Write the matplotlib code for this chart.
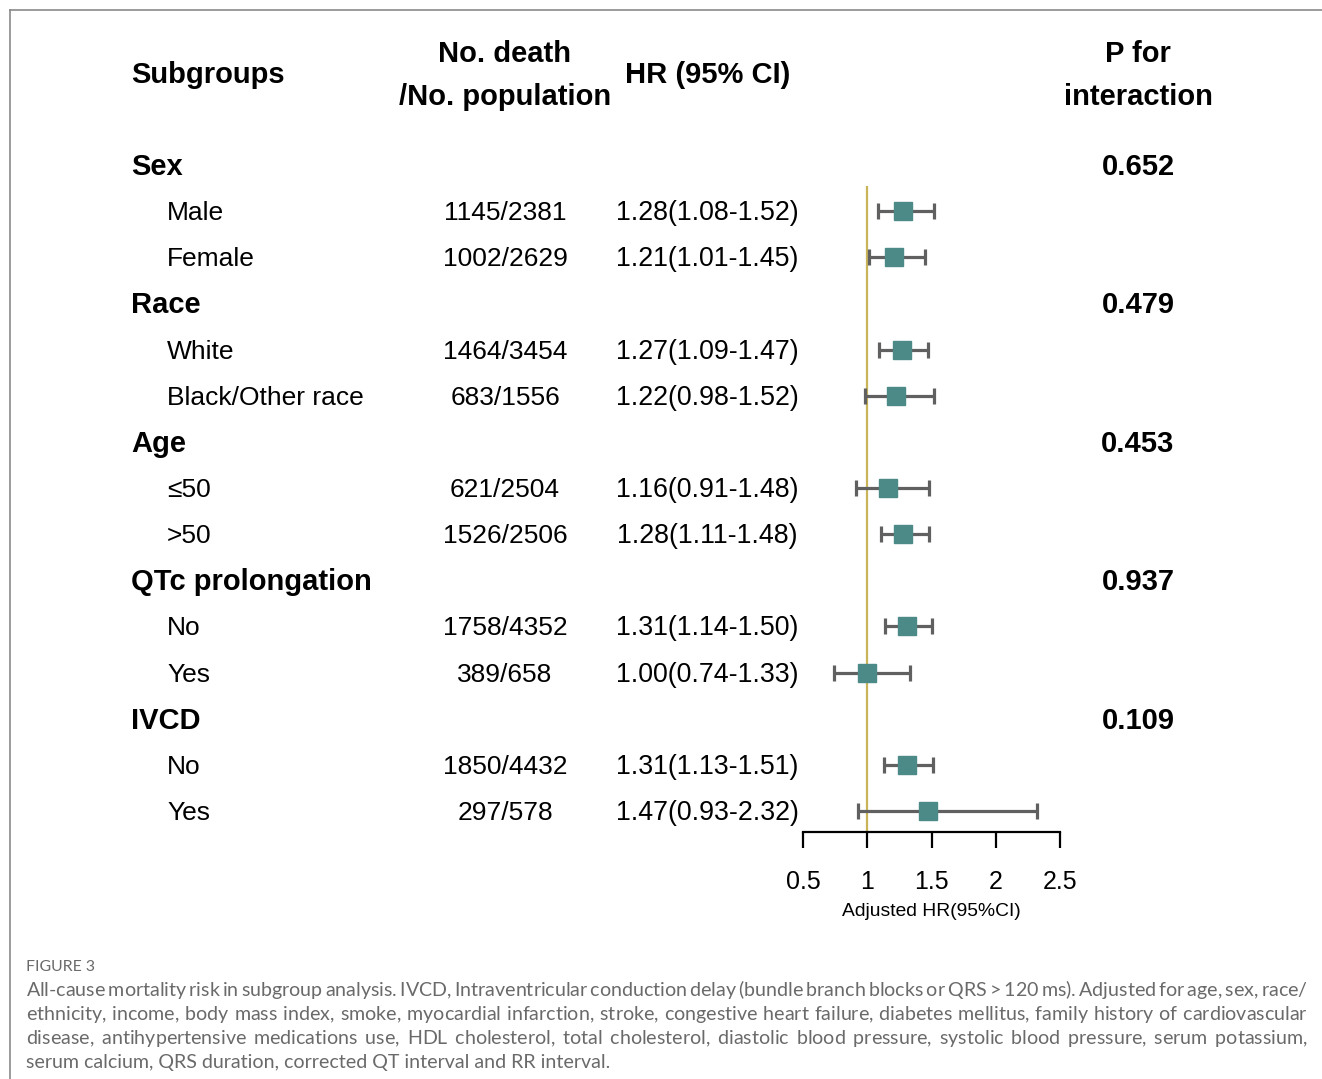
import matplotlib
matplotlib.use("Agg")
import matplotlib.pyplot as plt
import matplotlib.transforms as mtransforms
from matplotlib.lines import Line2D

plt.rcParams['font.family'] = ['Liberation Sans', 'DejaVu Sans']

# subgroup table
groups = ['Sex', 'Race', 'Age', 'QTc prolongation', 'IVCD']
p_interaction = ['0.652', '0.479', '0.453', '0.937', '0.109']
levels = [['Male', 'Female'], ['White', 'Black/Other race'], ['≤50', '>50'],
          ['No', 'Yes'], ['No', 'Yes']]
deaths = [1145, 1002, 1464, 683, 621, 1526, 1758, 389, 1850, 297]
population = [2381, 2629, 3454, 1556, 2504, 2506, 4352, 658, 4432, 578]
hr = [1.28, 1.21, 1.27, 1.22, 1.16, 1.28, 1.31, 1.00, 1.31, 1.47]
hr_low = [1.08, 1.01, 1.09, 0.98, 0.91, 1.11, 1.14, 0.74, 1.13, 0.93]
hr_high = [1.52, 1.45, 1.47, 1.52, 1.48, 1.48, 1.50, 1.33, 1.51, 2.32]
xticks = [0.5, 1, 1.5, 2, 2.5]

caption_lines = [
    'All-cause mortality risk in subgroup analysis. IVCD, Intraventricular conduction delay (bundle branch blocks or QRS$\\,$>$\\,$120 ms). Adjusted for age, sex, race/',
    'ethnicity, income, body mass index, smoke, myocardial infarction, stroke, congestive heart failure, diabetes mellitus, family history of cardiovascular',
    'disease, antihypertensive medications use, HDL cholesterol, total cholesterol, diastolic blood pressure, systolic blood pressure, serum potassium,',
    'serum calcium, QRS duration, corrected QT interval and RR interval.',
]

W, H = 1322, 1079
fig = plt.figure(figsize=(W / 100, H / 100), dpi=100)


def fx(px):
    return px / W


def fy(py):
    return 1 - py / H


# row layout: group header followed by its levels
group_rows, level_rows = [], []
r = 0
for lv in levels:
    group_rows.append(r)
    r += 1
    for _ in lv:
        level_rows.append(r)
        r += 1

row0_px, row_step = 165, 46.14
ax_top_px, ax_bot_px = 150, 832
y_top = (ax_top_px - row0_px) / row_step
y_bot = (ax_bot_px - row0_px) / row_step

ax = fig.add_axes([fx(803), fy(ax_bot_px), fx(1060 - 803), (ax_bot_px - ax_top_px) / H])
ax.set_xlim(0.5, 2.5)
ax.set_ylim(y_bot, y_top)
for s in ['top', 'left', 'right']:
    ax.spines[s].set_visible(False)
ax.spines['bottom'].set_linewidth(1.6)
ax.set_yticks([])
ax.set_xticks(xticks)
ax.set_xticklabels([f'{t:g}' for t in xticks], fontsize=18)
ax.tick_params(axis='x', length=11.5, width=1.6, pad=16)
ax.set_xlabel('Adjusted HR(95%CI)', fontsize=13.9, labelpad=6.5)
ax.patch.set_visible(False)

# null line
ax.vlines(1, 0.45, y_bot, color='#c9b45a', lw=1.6, zorder=1)

# confidence intervals and point estimates
err = [[h - l for h, l in zip(hr, hr_low)], [u - h for h, u in zip(hr, hr_high)]]
ax.errorbar(hr, level_rows, xerr=err, fmt='none', ecolor='#606060',
            elinewidth=2.3, capsize=5.8, capthick=2.3, zorder=2, clip_on=False)
ax.plot(hr, level_rows, 's', ms=12.5, color='#4b8a86', mec='#4b8a86', zorder=3,
        clip_on=False)

# text columns share the row positions of the forest axes (nudged 2px down)
nudge = mtransforms.ScaledTranslation(0, -2 / 100, fig.dpi_scale_trans)
tr = mtransforms.blended_transform_factory(fig.transFigure, ax.transData) + nudge
for g, p, row in zip(groups, p_interaction, group_rows):
    fig.text(fx(131), row, g, transform=tr, fontsize=21, fontweight='bold',
             ha='left', va='center')
    fig.text(fx(1138), row, p, transform=tr, fontsize=21, fontweight='bold',
             ha='center', va='center')

names = [n for lv in levels for n in lv]
for i, row in enumerate(level_rows):
    fig.text(fx(167), row, names[i], transform=tr, fontsize=19,
             ha='left', va='center')
    fig.text(fx(505), row, f'{deaths[i]}/{population[i]}', transform=tr,
             fontsize=19, ha='center', va='center')
    fig.text(fx(707), row, f'{hr[i]:.2f}({hr_low[i]:.2f}-{hr_high[i]:.2f})',
             transform=tr, fontsize=19.3, ha='center', va='center')

# column headers
hdr = dict(fontsize=21, fontweight='bold', va='center')
fig.text(fx(131), fy(75), 'Subgroups', ha='left', **hdr)
fig.text(fx(505), fy(54), 'No. death', ha='center', **hdr)
fig.text(fx(505), fy(97), '/No. population', ha='center', **hdr)
fig.text(fx(708), fy(75), 'HR (95% CI)', ha='center', **hdr)
fig.text(fx(1138), fy(54), 'P for', ha='center', **hdr)
fig.text(fx(1138), fy(97), 'interaction', ha='center', **hdr)

# frame around the figure panel
fig.add_artist(Line2D([fx(10), 1], [fy(10), fy(10)], color='#8a8a8a', lw=1.2))
fig.add_artist(Line2D([fx(10), fx(10)], [fy(10), 0], color='#8a8a8a', lw=1.2))

# caption; full lines are justified by adjusting the word gaps with \hspace
cap_font = dict(family='Lato', color='#6a6a6a')
fig.text(fx(26), fy(971), 'FIGURE 3', fontsize=11.4, va='baseline', **cap_font)

renderer = fig.canvas.get_renderer()
left_px, right_px = 26, 1308
cap_size = 14.1


def spaced(words, em):
    return (' $\\hspace{%.4f}$' % em).join(words)


for k, line in enumerate(caption_lines):
    y = fy(996 + 24 * k)
    t = fig.text(fx(left_px), y, line, fontsize=cap_size, va='baseline', **cap_font)
    if k == len(caption_lines) - 1:
        continue
    words = line.split(' ')
    t.set_text(spaced(words, 0.0))
    w0 = t.get_window_extent(renderer).width
    t.set_text(spaced(words, 1.0))
    w1 = t.get_window_extent(renderer).width
    em = (right_px - left_px - w0) / (w1 - w0)
    t.set_text(spaced(words, em))

fig.savefig('out.png', dpi=100)
